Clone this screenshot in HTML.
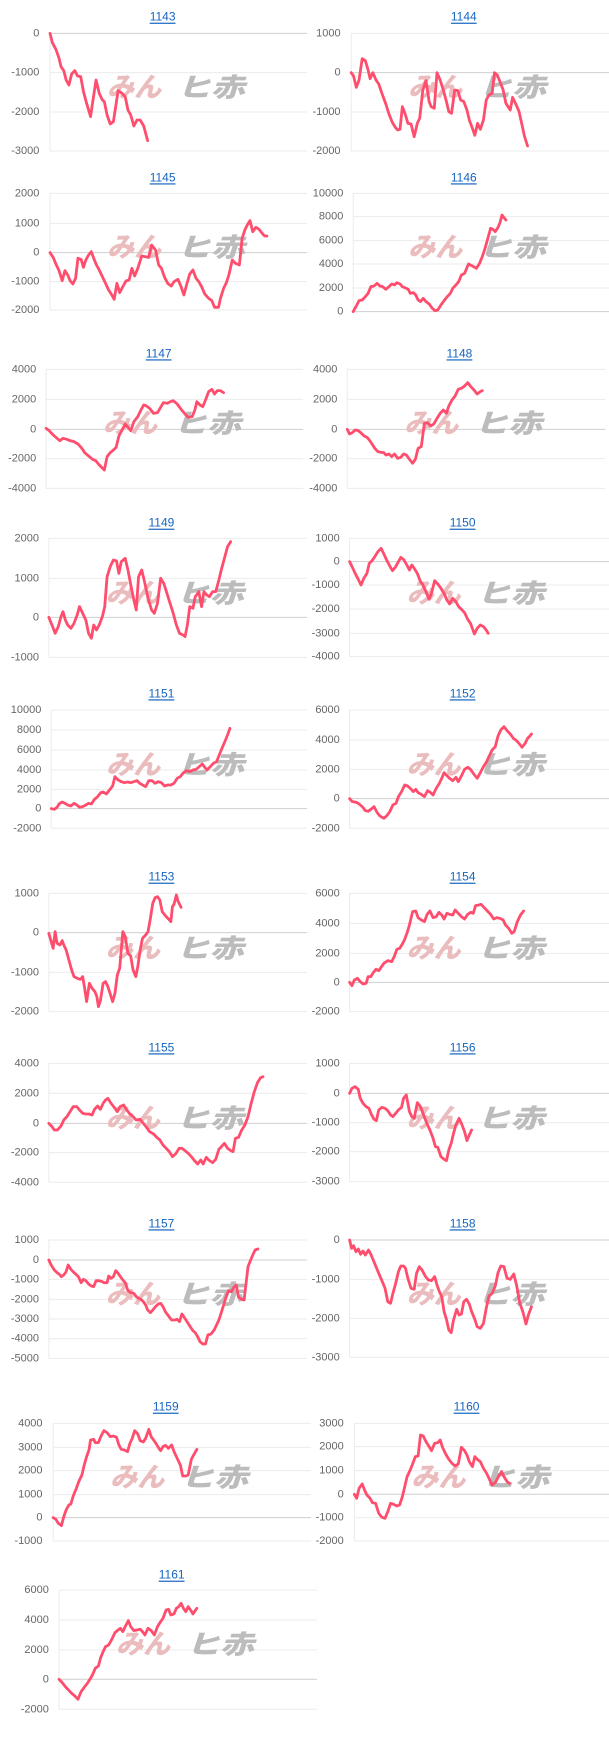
<!DOCTYPE html>
<html><head><meta charset="utf-8"><style>
html,body{margin:0;padding:0;background:#fff;}
svg{display:block}
.g{stroke:#ebebeb;stroke-width:1;vector-effect:non-scaling-stroke}
.z{stroke:#cfcfcf;stroke-width:1;vector-effect:non-scaling-stroke}
.l{fill:none;stroke:#ff4d6d;stroke-width:2.8;stroke-linejoin:round;stroke-linecap:round;vector-effect:non-scaling-stroke}
.t{font-family:"Liberation Sans",sans-serif;font-size:11px;fill:#666;text-anchor:end;dominant-baseline:central}
.h{font-family:"Liberation Sans",sans-serif;font-size:12px;fill:#1565c0;text-anchor:middle;dominant-baseline:central;text-decoration:underline}
.wp{font-family:"Noto Sans CJK JP",sans-serif;font-size:27px;font-weight:900;font-style:italic;fill:#ebbcbd}
.wg{font-family:"Noto Sans CJK JP",sans-serif;font-size:26px;font-weight:900;font-style:italic;fill:#bcbcbc}
</style></head><body>
<svg width="609" height="1741" viewBox="0 0 609 1741" xmlns="http://www.w3.org/2000/svg">

<!-- 1143 / 1144 -->
<g transform="translate(0,0) scale(0.3937,0.3333)">
<line class="z" x1="127" y1="100" x2="780" y2="100"/><line class="g" x1="127" y1="218" x2="780" y2="218"/><line class="g" x1="127" y1="336" x2="780" y2="336"/><line class="g" x1="127" y1="453" x2="780" y2="453"/><line class="g" x1="127" y1="100" x2="127" y2="453"/>
<text class="h" transform="translate(413,50) scale(2.54,3)">1143</text>
<text class="t" transform="translate(100,100) scale(2.54,3)">0</text><text class="t" transform="translate(100,218) scale(2.54,3)">-1000</text><text class="t" transform="translate(100,336) scale(2.54,3)">-2000</text><text class="t" transform="translate(100,453) scale(2.54,3)">-3000</text>
<text class="wp" transform="translate(272,290) scale(2.54,3)">みん</text><text class="wg" transform="translate(450,290) scale(3.3,3)">ヒ赤</text>
<polyline class="l" points="127,100 133,128 142,148 150,175 155,200 162,212 168,240 175,255 182,222 190,212 197,228 205,230 212,275 220,310 230,350 235,310 244,240 252,280 260,300 265,305 272,345 280,372 288,365 300,272 310,280 318,290 325,330 332,345 340,378 348,360 356,360 365,378 375,422"/>

<line class="g" x1="892" y1="100" x2="1547" y2="100"/><line class="z" x1="892" y1="218" x2="1547" y2="218"/><line class="g" x1="892" y1="336" x2="1547" y2="336"/><line class="g" x1="892" y1="453" x2="1547" y2="453"/><line class="g" x1="892" y1="100" x2="892" y2="453"/>
<text class="h" transform="translate(1178,50) scale(2.54,3)">1144</text>
<text class="t" transform="translate(865,100) scale(2.54,3)">1000</text><text class="t" transform="translate(865,218) scale(2.54,3)">0</text><text class="t" transform="translate(865,336) scale(2.54,3)">-1000</text><text class="t" transform="translate(865,453) scale(2.54,3)">-2000</text>
<text class="wp" transform="translate(1037,290) scale(2.54,3)">みん</text><text class="wg" transform="translate(1215,290) scale(3.3,3)">ヒ赤</text>
<polyline class="l" points="892,218 898,228 905,262 912,240 920,176 928,182 935,210 940,236 947,218 955,240 962,252 970,280 980,312 988,342 996,366 1004,382 1010,390 1016,388 1022,320 1030,345 1036,370 1044,372 1052,410 1060,370 1066,355 1074,270 1082,242 1090,305 1095,320 1103,325 1110,218 1118,240 1126,270 1134,305 1140,335 1147,340 1155,270 1163,272 1170,300 1178,305 1186,330 1192,360 1200,385 1206,406 1213,370 1220,388 1228,360 1235,300 1242,285 1250,280 1256,218 1263,225 1270,245 1278,270 1285,310 1296,330 1302,292 1310,312 1318,333 1325,370 1332,408 1340,438"/>
</g>

<!-- 1145 / 1146 -->
<g transform="translate(0,150) scale(0.3937,0.3333)">
<line class="g" x1="127" y1="130" x2="780" y2="130"/><line class="g" x1="127" y1="220" x2="780" y2="220"/><line class="z" x1="127" y1="308" x2="780" y2="308"/><line class="g" x1="127" y1="395" x2="780" y2="395"/><line class="g" x1="127" y1="480" x2="780" y2="480"/><line class="g" x1="127" y1="130" x2="127" y2="480"/>
<text class="h" transform="translate(413,82) scale(2.54,3)">1145</text>
<text class="t" transform="translate(100,130) scale(2.54,3)">2000</text><text class="t" transform="translate(100,220) scale(2.54,3)">1000</text><text class="t" transform="translate(100,308) scale(2.54,3)">0</text><text class="t" transform="translate(100,395) scale(2.54,3)">-1000</text><text class="t" transform="translate(100,480) scale(2.54,3)">-2000</text>
<text class="wp" transform="translate(272,320) scale(2.54,3)">みん</text><text class="wg" transform="translate(450,320) scale(3.3,3)">ヒ赤</text>
<polyline class="l" points="127,308 135,322 142,342 150,362 158,392 165,362 172,375 178,392 185,402 192,385 198,325 206,328 212,352 218,330 225,315 232,305 238,325 245,345 252,360 260,380 268,400 276,420 284,435 290,448 297,400 304,428 312,410 320,393 328,390 335,355 342,378 350,355 360,318 368,320 378,322 385,285 395,300 403,345 410,355 418,382 426,400 435,408 442,395 452,388 460,410 467,435 475,400 482,372 490,360 498,385 505,395 512,410 520,432 530,445 538,452 545,472 555,472 560,445 568,415 575,398 582,372 590,330 598,340 608,345 615,265 622,240 628,225 635,212 642,245 650,232 658,238 666,250 672,258 678,258"/>

<line class="g" x1="897" y1="130" x2="1547" y2="130"/><line class="g" x1="897" y1="200" x2="1547" y2="200"/><line class="g" x1="897" y1="272" x2="1547" y2="272"/><line class="g" x1="897" y1="342" x2="1547" y2="342"/><line class="g" x1="897" y1="414" x2="1547" y2="414"/><line class="z" x1="897" y1="485" x2="1547" y2="485"/><line class="g" x1="897" y1="130" x2="897" y2="485"/>
<text class="h" transform="translate(1178,82) scale(2.54,3)">1146</text>
<text class="t" transform="translate(872,130) scale(2.54,3)">10000</text><text class="t" transform="translate(872,200) scale(2.54,3)">8000</text><text class="t" transform="translate(872,272) scale(2.54,3)">6000</text><text class="t" transform="translate(872,342) scale(2.54,3)">4000</text><text class="t" transform="translate(872,414) scale(2.54,3)">2000</text><text class="t" transform="translate(872,485) scale(2.54,3)">0</text>
<text class="wp" transform="translate(1037,320) scale(2.54,3)">みん</text><text class="wg" transform="translate(1215,320) scale(3.3,3)">ヒ赤</text>
<polyline class="l" points="897,485 905,468 912,452 920,450 928,440 935,430 942,410 950,408 958,400 965,408 972,410 980,418 988,410 995,402 1002,405 1008,398 1016,402 1022,410 1030,414 1037,418 1042,430 1050,428 1056,435 1062,450 1068,455 1075,445 1082,455 1090,462 1098,475 1105,482 1112,480 1120,465 1128,452 1136,440 1144,430 1150,415 1158,405 1165,395 1172,375 1180,370 1190,342 1200,348 1210,355 1218,340 1225,320 1232,295 1238,270 1246,235 1252,238 1258,245 1265,232 1270,218 1275,195 1285,210"/>
</g>

<!-- 1147 / 1148 -->
<g transform="translate(0,300) scale(0.3937,0.3333)">
<line class="g" x1="117" y1="208" x2="770" y2="208"/><line class="g" x1="117" y1="298" x2="770" y2="298"/><line class="z" x1="117" y1="388" x2="770" y2="388"/><line class="g" x1="117" y1="476" x2="770" y2="476"/><line class="g" x1="117" y1="565" x2="770" y2="565"/><line class="g" x1="117" y1="208" x2="117" y2="565"/>
<text class="h" transform="translate(403,160) scale(2.54,3)">1147</text>
<text class="t" transform="translate(92,208) scale(2.54,3)">4000</text><text class="t" transform="translate(92,298) scale(2.54,3)">2000</text><text class="t" transform="translate(92,388) scale(2.54,3)">0</text><text class="t" transform="translate(92,476) scale(2.54,3)">-2000</text><text class="t" transform="translate(92,565) scale(2.54,3)">-4000</text>
<text class="wp" transform="translate(262,398) scale(2.54,3)">みん</text><text class="wg" transform="translate(440,398) scale(3.3,3)">ヒ赤</text>
<polyline class="l" points="117,385 125,392 135,405 145,415 152,422 160,415 170,418 178,422 188,425 198,432 208,445 215,458 225,468 235,478 243,482 250,492 258,502 265,510 272,470 280,458 290,448 295,442 302,408 310,390 318,372 325,382 332,392 340,365 350,350 358,330 365,315 372,318 380,325 390,340 400,338 408,322 415,308 425,310 433,305 440,302 450,312 460,328 470,342 478,352 488,350 495,330 500,305 508,315 515,320 522,300 530,275 538,268 545,282 552,272 560,272 568,278"/>

<line class="g" x1="882" y1="208" x2="1537" y2="208"/><line class="g" x1="882" y1="298" x2="1537" y2="298"/><line class="z" x1="882" y1="388" x2="1537" y2="388"/><line class="g" x1="882" y1="476" x2="1537" y2="476"/><line class="g" x1="882" y1="565" x2="1537" y2="565"/><line class="g" x1="882" y1="208" x2="882" y2="565"/>
<text class="h" transform="translate(1167,160) scale(2.54,3)">1148</text>
<text class="t" transform="translate(857,208) scale(2.54,3)">4000</text><text class="t" transform="translate(857,298) scale(2.54,3)">2000</text><text class="t" transform="translate(857,388) scale(2.54,3)">0</text><text class="t" transform="translate(857,476) scale(2.54,3)">-2000</text><text class="t" transform="translate(857,565) scale(2.54,3)">-4000</text>
<text class="wp" transform="translate(1027,398) scale(2.54,3)">みん</text><text class="wg" transform="translate(1205,398) scale(3.3,3)">ヒ赤</text>
<polyline class="l" points="882,388 888,402 895,398 902,390 910,392 918,400 925,408 932,412 938,420 945,432 952,445 960,455 968,457 975,458 980,465 988,462 995,470 1002,462 1010,475 1018,472 1025,462 1032,465 1040,478 1048,490 1055,478 1062,445 1070,440 1078,370 1086,368 1094,378 1102,372 1110,355 1118,340 1126,330 1134,340 1140,318 1148,300 1156,288 1164,268 1172,265 1180,258 1188,248 1196,260 1204,270 1212,282 1220,275 1225,272"/>
</g>

<!-- 1149 / 1150 -->
<g transform="translate(0,460) scale(0.3937,0.3333)">
<line class="g" x1="124" y1="235" x2="780" y2="235"/><line class="g" x1="124" y1="355" x2="780" y2="355"/><line class="z" x1="124" y1="472" x2="780" y2="472"/><line class="g" x1="124" y1="592" x2="780" y2="592"/><line class="g" x1="124" y1="235" x2="124" y2="592"/>
<text class="h" transform="translate(410,188) scale(2.54,3)">1149</text>
<text class="t" transform="translate(99,235) scale(2.54,3)">2000</text><text class="t" transform="translate(99,355) scale(2.54,3)">1000</text><text class="t" transform="translate(99,472) scale(2.54,3)">0</text><text class="t" transform="translate(99,592) scale(2.54,3)">-1000</text>
<text class="wp" transform="translate(269,427) scale(2.54,3)">みん</text><text class="wg" transform="translate(447,427) scale(3.3,3)">ヒ赤</text>
<polyline class="l" points="124,472 132,495 140,520 148,500 155,470 160,455 166,480 172,495 180,505 188,490 196,465 202,440 210,460 218,480 225,520 232,535 238,495 245,510 252,495 260,470 266,440 272,350 280,320 288,300 296,303 302,340 308,305 318,295 325,330 333,380 340,420 346,450 352,350 360,330 368,370 376,415 385,450 392,460 400,430 408,355 416,370 424,400 432,430 440,460 448,495 456,520 465,525 470,530 476,495 482,440 490,445 496,410 505,395 512,440 518,395 525,405 532,410 540,395 548,395 556,360 562,330 570,295 578,260 586,245"/>

<line class="g" x1="888" y1="235" x2="1547" y2="235"/><line class="z" x1="888" y1="305" x2="1547" y2="305"/><line class="g" x1="888" y1="375" x2="1547" y2="375"/><line class="g" x1="888" y1="447" x2="1547" y2="447"/><line class="g" x1="888" y1="520" x2="1547" y2="520"/><line class="g" x1="888" y1="590" x2="1547" y2="590"/><line class="g" x1="888" y1="235" x2="888" y2="590"/>
<text class="h" transform="translate(1175,188) scale(2.54,3)">1150</text>
<text class="t" transform="translate(863,235) scale(2.54,3)">1000</text><text class="t" transform="translate(863,305) scale(2.54,3)">0</text><text class="t" transform="translate(863,375) scale(2.54,3)">-1000</text><text class="t" transform="translate(863,447) scale(2.54,3)">-2000</text><text class="t" transform="translate(863,520) scale(2.54,3)">-3000</text><text class="t" transform="translate(863,590) scale(2.54,3)">-4000</text>
<text class="wp" transform="translate(1033,427) scale(2.54,3)">みん</text><text class="wg" transform="translate(1211,427) scale(3.3,3)">ヒ赤</text>
<polyline class="l" points="888,305 895,322 902,340 910,358 917,375 924,355 932,340 938,310 945,302 952,290 960,275 968,265 975,282 982,300 990,318 997,332 1004,322 1012,305 1018,292 1025,298 1032,312 1040,330 1046,315 1052,325 1060,340 1067,362 1074,375 1082,395 1090,418 1096,400 1104,362 1112,372 1120,385 1128,400 1135,420 1142,432 1150,415 1158,425 1165,440 1172,448 1180,458 1188,478 1195,490 1205,522 1212,505 1220,495 1228,500 1235,510 1240,520"/>
</g>

<!-- 1151 / 1152 -->
<g transform="translate(0,610) scale(0.3937,0.3333)">
<line class="g" x1="130" y1="300" x2="780" y2="300"/><line class="g" x1="130" y1="360" x2="780" y2="360"/><line class="g" x1="130" y1="420" x2="780" y2="420"/><line class="g" x1="130" y1="480" x2="780" y2="480"/><line class="g" x1="130" y1="538" x2="780" y2="538"/><line class="z" x1="130" y1="596" x2="780" y2="596"/><line class="g" x1="130" y1="655" x2="780" y2="655"/><line class="g" x1="130" y1="300" x2="130" y2="655"/>
<text class="h" transform="translate(410,250) scale(2.54,3)">1151</text>
<text class="t" transform="translate(105,300) scale(2.54,3)">10000</text><text class="t" transform="translate(105,360) scale(2.54,3)">8000</text><text class="t" transform="translate(105,420) scale(2.54,3)">6000</text><text class="t" transform="translate(105,480) scale(2.54,3)">4000</text><text class="t" transform="translate(105,538) scale(2.54,3)">2000</text><text class="t" transform="translate(105,596) scale(2.54,3)">0</text><text class="t" transform="translate(105,655) scale(2.54,3)">-2000</text>
<text class="wp" transform="translate(270,492) scale(2.54,3)">みん</text><text class="wg" transform="translate(448,492) scale(3.3,3)">ヒ赤</text>
<polyline class="l" points="130,596 138,598 145,592 150,582 158,576 165,580 172,585 180,588 188,580 195,585 202,592 210,590 218,585 225,580 232,582 240,568 248,560 256,548 262,546 270,552 278,540 286,528 292,500 300,510 308,515 316,518 324,516 332,518 340,515 348,512 355,520 362,525 370,530 378,512 386,512 394,520 402,515 410,518 418,528 426,525 434,525 442,520 450,505 458,500 466,488 474,482 482,485 490,480 498,478 506,470 514,462 520,472 526,480 534,470 542,460 550,455 556,438 562,420 570,398 578,375 584,355"/>

<line class="g" x1="888" y1="300" x2="1547" y2="300"/><line class="g" x1="888" y1="390" x2="1547" y2="390"/><line class="g" x1="888" y1="478" x2="1547" y2="478"/><line class="z" x1="888" y1="566" x2="1547" y2="566"/><line class="g" x1="888" y1="655" x2="1547" y2="655"/><line class="g" x1="888" y1="300" x2="888" y2="655"/>
<text class="h" transform="translate(1175,250) scale(2.54,3)">1152</text>
<text class="t" transform="translate(863,300) scale(2.54,3)">6000</text><text class="t" transform="translate(863,390) scale(2.54,3)">4000</text><text class="t" transform="translate(863,478) scale(2.54,3)">2000</text><text class="t" transform="translate(863,566) scale(2.54,3)">0</text><text class="t" transform="translate(863,655) scale(2.54,3)">-2000</text>
<text class="wp" transform="translate(1033,492) scale(2.54,3)">みん</text><text class="wg" transform="translate(1211,492) scale(3.3,3)">ヒ赤</text>
<polyline class="l" points="888,566 895,575 905,577 912,582 920,590 928,602 935,604 942,598 950,590 958,608 965,618 975,625 982,618 990,605 998,585 1006,580 1012,560 1020,545 1028,525 1035,528 1042,535 1050,545 1056,538 1062,548 1070,553 1078,560 1086,542 1094,548 1100,555 1108,535 1116,520 1122,505 1128,488 1136,498 1142,505 1150,512 1158,502 1164,515 1172,498 1180,478 1188,472 1195,478 1202,490 1212,505 1220,488 1228,470 1236,455 1242,440 1250,420 1258,410 1265,378 1272,360 1280,350 1288,362 1296,372 1304,385 1312,392 1318,400 1326,412 1334,400 1340,385 1346,378 1350,372"/>
</g>

<!-- 1153 / 1154 -->
<g transform="translate(0,775) scale(0.3937,0.3333)">
<line class="g" x1="124" y1="355" x2="780" y2="355"/><line class="z" x1="124" y1="473" x2="780" y2="473"/><line class="g" x1="124" y1="592" x2="780" y2="592"/><line class="g" x1="124" y1="710" x2="780" y2="710"/><line class="g" x1="124" y1="355" x2="124" y2="710"/>
<text class="h" transform="translate(410,305) scale(2.54,3)">1153</text>
<text class="t" transform="translate(99,355) scale(2.54,3)">1000</text><text class="t" transform="translate(99,473) scale(2.54,3)">0</text><text class="t" transform="translate(99,592) scale(2.54,3)">-1000</text><text class="t" transform="translate(99,710) scale(2.54,3)">-2000</text>
<text class="wp" transform="translate(269,547) scale(2.54,3)">みん</text><text class="wg" transform="translate(447,547) scale(3.3,3)">ヒ赤</text>
<polyline class="l" points="124,475 130,500 135,520 140,470 145,505 152,510 158,497 162,510 168,525 175,555 182,585 188,605 196,610 204,613 210,605 215,640 220,680 227,625 234,640 241,650 246,665 250,695 255,677 262,625 268,620 274,635 280,657 286,680 292,655 298,600 304,580 308,525 312,470 318,485 325,535 332,543 338,585 345,605 350,575 356,525 362,490 370,480 376,470 382,430 388,385 394,368 400,365 406,375 412,410 420,422 428,432 434,440 438,395 442,388 448,360 452,378 460,397"/>

<line class="g" x1="888" y1="355" x2="1547" y2="355"/><line class="g" x1="888" y1="445" x2="1547" y2="445"/><line class="g" x1="888" y1="535" x2="1547" y2="535"/><line class="z" x1="888" y1="622" x2="1547" y2="622"/><line class="g" x1="888" y1="710" x2="1547" y2="710"/><line class="g" x1="888" y1="355" x2="888" y2="710"/>
<text class="h" transform="translate(1175,305) scale(2.54,3)">1154</text>
<text class="t" transform="translate(863,355) scale(2.54,3)">6000</text><text class="t" transform="translate(863,445) scale(2.54,3)">4000</text><text class="t" transform="translate(863,535) scale(2.54,3)">2000</text><text class="t" transform="translate(863,622) scale(2.54,3)">0</text><text class="t" transform="translate(863,710) scale(2.54,3)">-2000</text>
<text class="wp" transform="translate(1033,547) scale(2.54,3)">みん</text><text class="wg" transform="translate(1211,547) scale(3.3,3)">ヒ赤</text>
<polyline class="l" points="888,622 894,632 900,615 908,610 915,620 922,627 930,625 935,605 942,605 948,593 955,583 962,587 968,577 975,565 985,557 995,560 1002,543 1008,523 1015,520 1022,507 1028,493 1035,470 1040,450 1048,410 1056,408 1062,428 1070,435 1078,440 1085,418 1092,408 1100,428 1108,425 1115,412 1122,420 1128,432 1135,415 1142,418 1150,420 1156,405 1164,415 1172,425 1180,432 1188,418 1196,412 1202,415 1208,392 1216,390 1222,388 1230,398 1238,408 1246,418 1254,432 1262,428 1270,430 1278,435 1284,450 1292,460 1300,475 1306,470 1314,440 1322,420 1330,408"/>
</g>

<!-- 1155 / 1156 -->
<g transform="translate(0,930) scale(0.3937,0.3333)">
<line class="g" x1="124" y1="400" x2="780" y2="400"/><line class="g" x1="124" y1="490" x2="780" y2="490"/><line class="z" x1="124" y1="580" x2="780" y2="580"/><line class="g" x1="124" y1="668" x2="780" y2="668"/><line class="g" x1="124" y1="757" x2="780" y2="757"/><line class="g" x1="124" y1="400" x2="124" y2="757"/>
<text class="h" transform="translate(410,352) scale(2.54,3)">1155</text>
<text class="t" transform="translate(99,400) scale(2.54,3)">4000</text><text class="t" transform="translate(99,490) scale(2.54,3)">2000</text><text class="t" transform="translate(99,580) scale(2.54,3)">0</text><text class="t" transform="translate(99,668) scale(2.54,3)">-2000</text><text class="t" transform="translate(99,757) scale(2.54,3)">-4000</text>
<text class="wp" transform="translate(269,592) scale(2.54,3)">みん</text><text class="wg" transform="translate(447,592) scale(3.3,3)">ヒ赤</text>
<polyline class="l" points="124,580 132,590 138,600 146,600 155,588 162,570 170,560 178,545 186,530 195,530 202,540 210,550 218,552 226,552 234,555 240,538 248,528 255,538 262,520 268,510 274,505 282,520 290,532 298,545 305,530 314,525 322,540 330,552 338,560 346,570 356,568 364,580 372,592 380,605 390,612 398,622 406,630 414,645 422,655 430,665 438,680 446,672 455,655 462,655 470,662 478,670 486,680 494,692 502,702 510,690 516,702 524,682 530,690 540,698 548,688 556,658 564,648 570,640 578,655 586,662 592,665 598,625 606,622 614,600 622,585 630,560 638,520 646,485 654,458 662,443 668,440"/>

<line class="g" x1="888" y1="400" x2="1547" y2="400"/><line class="z" x1="888" y1="490" x2="1547" y2="490"/><line class="g" x1="888" y1="578" x2="1547" y2="578"/><line class="g" x1="888" y1="665" x2="1547" y2="665"/><line class="g" x1="888" y1="755" x2="1547" y2="755"/><line class="g" x1="888" y1="400" x2="888" y2="755"/>
<text class="h" transform="translate(1175,352) scale(2.54,3)">1156</text>
<text class="t" transform="translate(863,400) scale(2.54,3)">1000</text><text class="t" transform="translate(863,490) scale(2.54,3)">0</text><text class="t" transform="translate(863,578) scale(2.54,3)">-1000</text><text class="t" transform="translate(863,665) scale(2.54,3)">-2000</text><text class="t" transform="translate(863,755) scale(2.54,3)">-3000</text>
<text class="wp" transform="translate(1033,592) scale(2.54,3)">みん</text><text class="wg" transform="translate(1211,592) scale(3.3,3)">ヒ赤</text>
<polyline class="l" points="888,490 894,475 902,470 910,478 915,505 922,520 930,530 937,535 944,555 950,568 956,572 962,540 970,532 978,535 985,542 992,555 998,560 1005,550 1012,540 1020,532 1025,505 1032,495 1040,545 1046,560 1052,565 1060,518 1068,530 1076,555 1084,580 1092,600 1100,625 1106,650 1112,652 1120,680 1128,688 1134,692 1140,660 1146,640 1152,610 1158,585 1166,565 1172,580 1180,605 1186,632 1192,615 1198,600"/>
</g>

<!-- 1157 / 1158 / 1159 / 1160 / 1161 -->
<g transform="translate(0,1260) scale(0.3937,0.3333)">
<line class="g" x1="124" y1="-60" x2="780" y2="-60"/><line class="z" x1="124" y1="0" x2="780" y2="0"/><line class="g" x1="124" y1="58" x2="780" y2="58"/><line class="g" x1="124" y1="118" x2="780" y2="118"/><line class="g" x1="124" y1="177" x2="780" y2="177"/><line class="g" x1="124" y1="236" x2="780" y2="236"/><line class="g" x1="124" y1="295" x2="780" y2="295"/><line class="g" x1="124" y1="-60" x2="124" y2="295"/>
<text class="h" transform="translate(410,-110) scale(2.54,3)">1157</text>
<text class="t" transform="translate(99,-60) scale(2.54,3)">1000</text><text class="t" transform="translate(99,0) scale(2.54,3)">0</text><text class="t" transform="translate(99,58) scale(2.54,3)">-1000</text><text class="t" transform="translate(99,118) scale(2.54,3)">-2000</text><text class="t" transform="translate(99,177) scale(2.54,3)">-3000</text><text class="t" transform="translate(99,236) scale(2.54,3)">-4000</text><text class="t" transform="translate(99,295) scale(2.54,3)">-5000</text>
<text class="wp" transform="translate(269,130) scale(2.54,3)">みん</text><text class="wg" transform="translate(447,130) scale(3.3,3)">ヒ赤</text>
<polyline class="l" points="124,0 130,15 138,30 145,38 150,42 156,50 162,45 168,35 173,15 180,28 188,38 195,45 200,52 206,68 212,58 218,62 225,72 232,78 238,80 244,62 250,62 258,64 264,68 272,68 276,48 282,55 288,50 294,32 300,40 306,50 312,60 318,68 325,92 332,98 340,100 346,110 352,115 358,118 364,125 370,135 375,150 382,158 388,150 395,140 402,132 408,130 414,140 420,155 428,168 436,180 444,180 450,178 456,185 462,162 468,172 475,185 482,198 490,212 496,218 502,230 508,245 515,252 522,252 528,225 536,222 544,210 550,195 556,180 562,158 568,135 574,112 580,92 588,95 594,82 600,75 606,112 614,118 620,120 624,80 630,20 635,5 642,-15 648,-30 655,-33"/>

<line class="z" x1="888" y1="-60" x2="1547" y2="-60"/><line class="g" x1="888" y1="58" x2="1547" y2="58"/><line class="g" x1="888" y1="175" x2="1547" y2="175"/><line class="g" x1="888" y1="292" x2="1547" y2="292"/><line class="g" x1="888" y1="-60" x2="888" y2="292"/>
<text class="h" transform="translate(1175,-110) scale(2.54,3)">1158</text>
<text class="t" transform="translate(863,-60) scale(2.54,3)">0</text><text class="t" transform="translate(863,58) scale(2.54,3)">-1000</text><text class="t" transform="translate(863,175) scale(2.54,3)">-2000</text><text class="t" transform="translate(863,292) scale(2.54,3)">-3000</text>
<text class="wp" transform="translate(1033,130) scale(2.54,3)">みん</text><text class="wg" transform="translate(1211,130) scale(3.3,3)">ヒ赤</text>
<polyline class="l" points="888,-60 893,-35 898,-43 904,-25 910,-33 916,-17 922,-27 928,-15 936,-30 942,-17 948,0 955,20 962,40 970,62 978,85 985,125 992,130 998,100 1005,70 1012,35 1018,18 1025,18 1030,25 1036,55 1044,85 1052,88 1058,40 1065,20 1072,30 1080,48 1088,60 1096,62 1104,50 1110,75 1116,95 1122,110 1128,155 1134,178 1140,210 1146,218 1152,180 1160,148 1166,165 1172,162 1178,125 1185,118 1192,132 1198,155 1206,178 1212,200 1220,205 1228,190 1235,145 1242,108 1250,100 1258,78 1265,38 1272,18 1280,20 1288,55 1296,58 1305,42 1312,75 1320,128 1328,155 1336,192 1342,165 1350,140"/>

<line class="g" x1="135" y1="490" x2="790" y2="490"/><line class="g" x1="135" y1="562" x2="790" y2="562"/><line class="g" x1="135" y1="632" x2="790" y2="632"/><line class="g" x1="135" y1="704" x2="790" y2="704"/><line class="z" x1="135" y1="773" x2="790" y2="773"/><line class="g" x1="135" y1="843" x2="790" y2="843"/><line class="g" x1="135" y1="490" x2="135" y2="843"/>
<text class="h" transform="translate(421,440) scale(2.54,3)">1159</text>
<text class="t" transform="translate(108,490) scale(2.54,3)">4000</text><text class="t" transform="translate(108,562) scale(2.54,3)">3000</text><text class="t" transform="translate(108,632) scale(2.54,3)">2000</text><text class="t" transform="translate(108,704) scale(2.54,3)">1000</text><text class="t" transform="translate(108,773) scale(2.54,3)">0</text><text class="t" transform="translate(108,843) scale(2.54,3)">-1000</text>
<text class="wp" transform="translate(280,680) scale(2.54,3)">みん</text><text class="wg" transform="translate(458,680) scale(3.3,3)">ヒ赤</text>
<polyline class="l" points="135,773 142,778 148,790 156,797 162,770 168,750 175,735 180,732 186,708 194,685 200,665 208,645 214,615 220,590 226,570 230,540 238,538 242,548 250,548 256,530 264,512 272,518 280,530 288,528 296,532 302,555 308,568 316,570 324,575 330,550 336,535 342,512 350,522 356,542 364,546 370,535 378,508 384,530 390,540 396,550 402,562 408,572 414,560 420,556 428,565 436,555 442,575 450,595 458,615 464,648 472,648 478,645 486,598 492,585 500,568"/>

<line class="g" x1="900" y1="490" x2="1555" y2="490"/><line class="g" x1="900" y1="560" x2="1555" y2="560"/><line class="g" x1="900" y1="632" x2="1555" y2="632"/><line class="z" x1="900" y1="703" x2="1555" y2="703"/><line class="g" x1="900" y1="773" x2="1555" y2="773"/><line class="g" x1="900" y1="843" x2="1555" y2="843"/><line class="g" x1="900" y1="490" x2="900" y2="843"/>
<text class="h" transform="translate(1185,440) scale(2.54,3)">1160</text>
<text class="t" transform="translate(873,490) scale(2.54,3)">3000</text><text class="t" transform="translate(873,560) scale(2.54,3)">2000</text><text class="t" transform="translate(873,632) scale(2.54,3)">1000</text><text class="t" transform="translate(873,703) scale(2.54,3)">0</text><text class="t" transform="translate(873,773) scale(2.54,3)">-1000</text><text class="t" transform="translate(873,843) scale(2.54,3)">-2000</text>
<text class="wp" transform="translate(1045,680) scale(2.54,3)">みん</text><text class="wg" transform="translate(1223,680) scale(3.3,3)">ヒ赤</text>
<polyline class="l" points="900,703 906,715 912,685 920,672 926,690 932,705 940,715 946,728 954,730 962,760 970,772 978,775 985,755 992,730 1000,733 1008,738 1015,735 1022,710 1028,680 1034,650 1042,630 1048,612 1055,590 1062,588 1068,525 1075,528 1082,545 1090,560 1096,572 1104,550 1112,548 1118,540 1124,562 1132,582 1140,598 1148,610 1156,618 1164,612 1172,562 1180,572 1186,585 1192,605 1200,620 1206,590 1214,600 1220,605 1228,625 1236,640 1244,660 1250,675 1258,668 1266,650 1274,635 1280,650 1288,665 1294,670"/>

<line class="g" x1="150" y1="990" x2="805" y2="990"/><line class="g" x1="150" y1="1080" x2="805" y2="1080"/><line class="g" x1="150" y1="1170" x2="805" y2="1170"/><line class="z" x1="150" y1="1258" x2="805" y2="1258"/><line class="g" x1="150" y1="1348" x2="805" y2="1348"/><line class="g" x1="150" y1="990" x2="150" y2="1348"/>
<text class="h" transform="translate(436,944) scale(2.54,3)">1161</text>
<text class="t" transform="translate(124,990) scale(2.54,3)">6000</text><text class="t" transform="translate(124,1080) scale(2.54,3)">4000</text><text class="t" transform="translate(124,1170) scale(2.54,3)">2000</text><text class="t" transform="translate(124,1258) scale(2.54,3)">0</text><text class="t" transform="translate(124,1348) scale(2.54,3)">-2000</text>
<text class="wp" transform="translate(295,1180) scale(2.54,3)">みん</text><text class="wg" transform="translate(473,1180) scale(3.3,3)">ヒ赤</text>
<polyline class="l" points="150,1258 158,1268 166,1280 174,1290 182,1300 190,1308 198,1318 206,1295 214,1282 222,1270 230,1255 236,1242 242,1225 250,1218 256,1192 262,1175 268,1160 276,1155 284,1138 292,1118 300,1110 306,1105 312,1115 318,1100 326,1082 332,1100 340,1112 348,1110 356,1108 362,1115 368,1125 376,1105 384,1112 392,1125 400,1100 408,1085 414,1075 422,1050 428,1048 434,1065 442,1062 448,1045 454,1040 460,1030 466,1045 472,1055 478,1040 485,1052 490,1062 500,1045"/>
</g>
</svg>
</body></html>
